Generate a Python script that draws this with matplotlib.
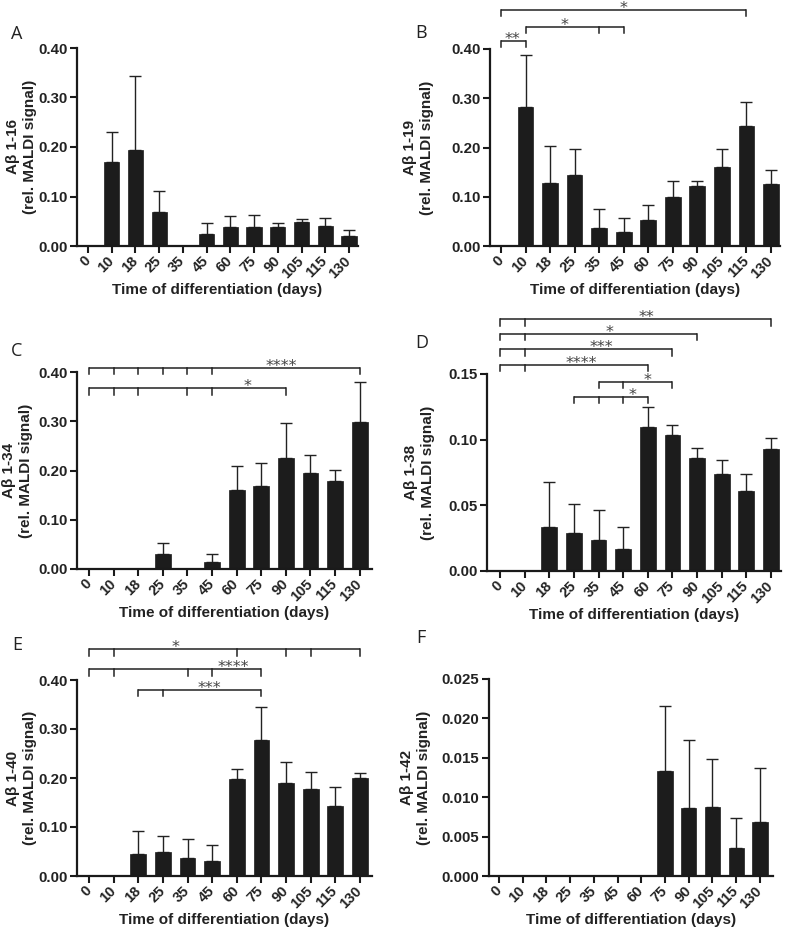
import numpy as np
import matplotlib
matplotlib.use("Agg")
from matplotlib import pyplot as plt

plt.rcParams['font.family'] = ['Liberation Sans', 'DejaVu Sans']

days = ["0", "10", "18", "25", "35", "45", "60", "75", "90", "105", "115", "130"]

# mean values and upper error lengths
ab16_mean = [0, 0.169, 0.194, 0.069, 0, 0.024, 0.038, 0.038, 0.039, 0.049, 0.041, 0.020]
ab16_err = [0, 0.062, 0.149, 0.042, 0, 0.023, 0.022, 0.025, 0.008, 0.006, 0.015, 0.013]

ab19_mean = [0, 0.283, 0.127, 0.144, 0.037, 0.028, 0.053, 0.100, 0.121, 0.161, 0.243, 0.126]
ab19_err = [0, 0.105, 0.077, 0.053, 0.038, 0.028, 0.031, 0.031, 0.011, 0.036, 0.049, 0.028]

ab34_mean = [0, 0, 0, 0.030, 0, 0.014, 0.161, 0.168, 0.225, 0.194, 0.178, 0.299]
ab34_err = [0, 0, 0, 0.023, 0, 0.016, 0.049, 0.047, 0.072, 0.037, 0.023, 0.081]

ab38_mean = [0, 0, 0.0338, 0.0292, 0.0233, 0.0170, 0.110, 0.1036, 0.0858, 0.0739, 0.0612, 0.0931]
ab38_err = [0, 0, 0.0342, 0.0221, 0.0231, 0.0168, 0.0146, 0.0074, 0.0082, 0.0106, 0.0127, 0.0084]

ab40_mean = [0, 0, 0.0456, 0.048, 0.037, 0.031, 0.197, 0.277, 0.190, 0.178, 0.143, 0.201]
ab40_err = [0, 0, 0.047, 0.034, 0.038, 0.032, 0.021, 0.067, 0.043, 0.034, 0.039, 0.010]

ab42_mean = [0, 0, 0, 0, 0, 0, 0, 0.0133, 0.0086, 0.0087, 0.0036, 0.0068]
ab42_err = [0, 0, 0, 0, 0, 0, 0, 0.0083, 0.0086, 0.0062, 0.0037, 0.0069]

# significance brackets: (stars, bracket height, days with ticks, star x position)
sig_b = [("**", 0.416, ["0", "10"], 0.45),
         ("*", 0.445, ["10", "35", "45"], 2.6),
         ("*", 0.480, ["0", "115"], 5.0)]
sig_c = [("****", 0.408, ["0", "10", "18", "25", "35", "45", "130"], 7.8),
         ("*", 0.367, ["0", "10", "18", "35", "45", "90"], 6.45)]
sig_d = [("**", 0.1916, ["0", "10", "130"], 5.94),
         ("*", 0.1805, ["0", "10", "90"], 4.45),
         ("***", 0.1688, ["0", "10", "75"], 4.1),
         ("****", 0.1569, ["0", "10", "60"], 3.3),
         ("*", 0.1442, ["35", "45", "75"], 6.0),
         ("*", 0.1327, ["25", "35", "45", "60"], 5.4)]
sig_e = [("*", 0.4626, ["0", "10", "60", "90", "105", "130"], 3.5),
         ("****", 0.4218, ["0", "10", "35", "45", "75"], 5.85),
         ("***", 0.3796, ["18", "25", "75"], 4.9)]

W, H = 787, 933
fig = plt.figure(figsize=(W / 100, H / 100), dpi=100)

# (letter, label, mean, err, ymax, ystep, fmt, brackets, box px l r t b, xlim, ylabel offset px)
panels = [
    ("A", "Aβ 1-16", ab16_mean, ab16_err, 0.40, 0.10, "%.2f", [], (77, 358, 48, 246), (-0.46, 11.38), 40),
    ("B", "Aβ 1-19", ab19_mean, ab19_err, 0.40, 0.10, "%.2f", sig_b, (490, 780, 49, 246), (-0.45, 11.37), 56),
    ("C", "Aβ 1-34", ab34_mean, ab34_err, 0.40, 0.10, "%.2f", sig_c, (77, 372, 372, 569), (-0.49, 11.5), 44),
    ("D", "Aβ 1-38", ab38_mean, ab38_err, 0.15, 0.05, "%.2f", sig_d, (487, 781, 374, 571), (-0.53, 11.41), 52),
    ("E", "Aβ 1-40", ab40_mean, ab40_err, 0.40, 0.10, "%.2f", sig_e, (77, 372, 680, 876), (-0.49, 11.49), 40),
    ("F", "Aβ 1-42", ab42_mean, ab42_err, 0.025, 0.005, "%.3f", [], (489, 773, 679, 876), (-0.42, 11.55), 58),
]

letter_px = {"A": (17, 34), "B": (421, 33), "C": (17, 351),
             "D": (422, 343), "E": (17, 645), "F": (421, 638)}

for letter, label, mean, err, ymax, ystep, fmt, brackets, box, xlim, yoff in panels:
    l, r, t, b = box
    ax = fig.add_axes([l / W, 1 - b / H, (r - l) / W, (b - t) / H])
    x = np.arange(len(days))
    mean = np.array(mean)
    err = np.array(err)
    ax.bar(x, mean, width=0.64, color="#1c1c1c", edgecolor="#1c1c1c", linewidth=0.5, zorder=2)
    keep = mean > 0
    ax.errorbar(x[keep], mean[keep], yerr=[np.zeros(keep.sum()), err[keep]], fmt="none",
                ecolor="#222222", elinewidth=1.0, capsize=4, capthick=1.0, zorder=1)

    ax.set_xlim(*xlim)
    ax.set_ylim(0, ymax)
    ax.set_yticks(np.arange(0, ymax + ystep / 2, ystep))
    ax.yaxis.set_major_formatter(matplotlib.ticker.FormatStrFormatter(fmt))
    ax.set_xticks(x)
    ax.set_xticklabels(days, rotation=45, ha="right", va="center", rotation_mode="anchor")
    for s in ["top", "right"]:
        ax.spines[s].set_visible(False)
    for s in ["left", "bottom"]:
        ax.spines[s].set_linewidth(1.6)
        ax.spines[s].set_color("#1a1a1a")
    ax.tick_params(axis="both", direction="out", length=5, width=1.5, color="#1a1a1a",
                   labelsize=10.8, pad=2)
    ax.tick_params(axis="x", pad=4, labelsize=10.5)
    for tl in ax.get_xticklabels() + ax.get_yticklabels():
        tl.set_fontweight("bold")
        tl.set_color("#222222")

    ax.set_ylabel(label + "\n(rel. MALDI signal)", fontsize=11, fontweight="bold",
                  color="#222222", linespacing=1.25)
    ax.yaxis.set_label_coords(-yoff / (r - l), 0.5)
    ax.set_xlabel("Time of differentiation (days)", fontsize=11, fontweight="bold",
                  color="#222222", labelpad=2)

    drop = ymax * 0.032
    for stars, yb, ticks, sx in brackets:
        idx = [days.index(d) for d in ticks]
        ax.plot([min(idx), max(idx)], [yb, yb], color="#222222", lw=1.1, clip_on=False,
                solid_capstyle="butt")
        for i in idx:
            ax.plot([i, i], [yb, yb - drop], color="#222222", lw=1.1, clip_on=False)
        ax.annotate(stars, (sx, yb), xytext=(0, -2.2), textcoords="offset points",
                    ha="center", va="baseline", fontsize=11.5, color="#444444",
                    family="DejaVu Sans", annotation_clip=False)

    lx, ly = letter_px[letter]
    fig.text(lx / W, 1 - ly / H, letter, fontsize=13,
             family="Open Sans", ha="center", va="center", color="#222222")

fig.savefig("out.png", dpi=100)
